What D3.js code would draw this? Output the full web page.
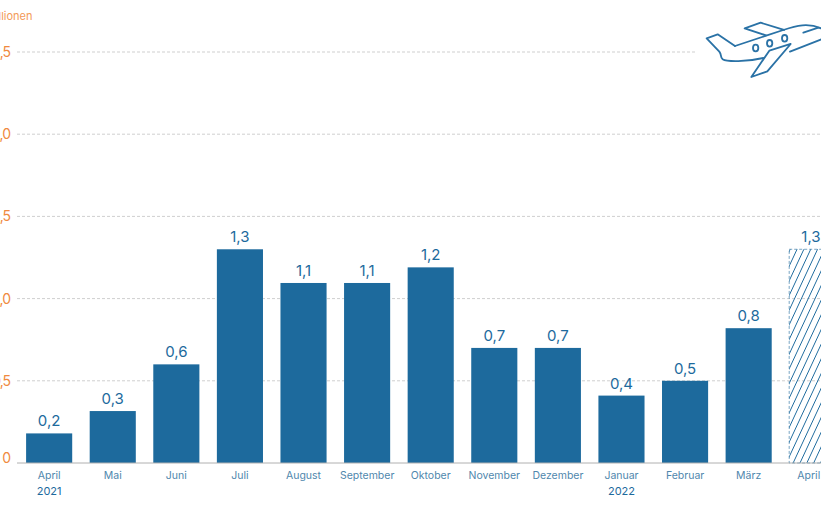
<!DOCTYPE html>
<html>
<head>
<meta charset="utf-8">
<script src="https://cdn.jsdelivr.net/npm/d3@7"></script>
<style>
  body { margin: 0; background: #fff; font-family: Inter, sans-serif; overflow: hidden; }
  svg { display: block; }
  .domain { display: none; }
  .x.axis line, .y.axis line { display: none; }
</style>
</head>
<body>
<script>
// Values (millions)
var months = ["April", "Mai", "Juni", "Juli", "August", "September", "Oktober", "November", "Dezember", "Januar", "Februar", "März", "April "];
var values = [0.18, 0.316, 0.6, 1.3, 1.095, 1.095, 1.19, 0.7, 0.7, 0.41, 0.5, 0.82, 1.3];
var hatched = ["April "];
var yearLabels = [["April", "2021"], ["Januar", "2022"]];
var yTicks = [0, 0.5, 1, 1.5, 2, 2.5];

var blue = "#1d6a9d", orange = "#f08a3e";
var width = 821, height = 513;

var x = d3.scaleBand().domain(months).range([17.2, 844.2]).paddingInner(0.275).paddingOuter(0.14);
var y = d3.scaleLinear().domain([0, 2.5]).range([463, 52]);

var comma = function(v, digits) { return d3.format("." + digits + "f")(v).replace(".", ","); };

var svg = d3.select("body").append("svg").attr("width", width).attr("height", height);

var defs = svg.append("defs");
var pattern = defs.append("pattern")
    .attr("id", "hatch")
    .attr("patternUnits", "userSpaceOnUse")
    .attr("width", 6.2).attr("height", 6.2)
    .attr("patternTransform", "rotate(25)");
pattern.append("line")
    .attr("x1", 3.1).attr("x2", 3.1).attr("y1", 0).attr("y2", 6.2)
    .attr("stroke", blue).attr("stroke-width", 0.9);

// unit label, cut by the left edge like the reference
svg.append("text")
    .attr("x", 32.5).attr("y", 19.5)
    .attr("text-anchor", "end")
    .attr("fill", "#f39a58")
    .attr("font-size", 11)
    .text("in Millionen");

// y axis and dashed grid
var yAxis = svg.append("g")
    .attr("class", "y axis")
    .attr("transform", "translate(10,0)")
    .call(d3.axisLeft(y).tickValues(yTicks).tickSize(0).tickPadding(0)
      .tickFormat(function(d) { return d === 0 ? "0" : comma(d, 1); }));
yAxis.selectAll("text")
    .attr("fill", orange).attr("font-size", 14).attr("font-family", "Inter")
    .attr("letter-spacing", -1)
    .attr("y", function(d) { return d === 0 ? -5 : 0; });

svg.selectAll(".grid").data(yTicks.filter(function(d) { return d > 0; }))
  .enter().append("line")
    .attr("class", "grid")
    .attr("x1", 17)
    .attr("x2", function(d) { return d === 2.5 ? 695 : width; })
    .attr("y1", function(d) { return y(d); })
    .attr("y2", function(d) { return y(d); })
    .attr("stroke", "#cfcfcf")
    .attr("stroke-width", 1)
    .attr("stroke-dasharray", "3 2");

// bars
svg.selectAll(".bar").data(months)
  .enter().append("rect")
    .attr("class", "bar")
    .attr("x", function(d) { return x(d); })
    .attr("width", x.bandwidth())
    .attr("y", function(d, i) { return y(values[i]); })
    .attr("height", function(d, i) { return y(0) - y(values[i]); })
    .attr("fill", function(d) { return hatched.indexOf(d) > -1 ? "url(#hatch)" : blue; })
    .attr("stroke", function(d) { return hatched.indexOf(d) > -1 ? "#3f7fab" : "none"; })
    .attr("stroke-width", 0.7)
    .attr("stroke-dasharray", function(d) { return hatched.indexOf(d) > -1 ? "3 2" : null; });

// value labels
svg.selectAll(".val").data(months)
  .enter().append("text")
    .attr("class", "val")
    .attr("x", function(d) { return Math.min(x(d) + x.bandwidth() / 2, 811); })
    .attr("y", function(d, i) { return y(values[i]) - 7; })
    .attr("text-anchor", "middle")
    .attr("fill", blue)
    .attr("font-size", 15)
    .text(function(d, i) { return comma(values[i], 1); });

// baseline
svg.append("line")
    .attr("x1", 17).attr("x2", width)
    .attr("y1", y(0)).attr("y2", y(0))
    .attr("stroke", "#b0b0b0")
    .attr("stroke-width", 1);

// x axis
var xAxis = svg.append("g")
    .attr("class", "x axis")
    .attr("transform", "translate(0," + y(0) + ")")
    .call(d3.axisBottom(x).tickSize(0).tickPadding(9));
xAxis.selectAll("text")
    .attr("fill", "#4f87ad").attr("font-size", 10.5).attr("font-family", "Inter")
    .attr("x", function(d) { return hatched.indexOf(d) > -1 ? -3.5 : 0; });

svg.selectAll(".year").data(yearLabels)
  .enter().append("text")
    .attr("class", "year")
    .attr("x", function(d) { return x(d[0]) + x.bandwidth() / 2; })
    .attr("y", 495)
    .attr("text-anchor", "middle")
    .attr("fill", blue)
    .attr("font-size", 11)
    .text(function(d) { return d[1]; });

// plane icon
var plane = svg.append("g")
    .attr("transform", "translate(680,0) scale(0.3333)")
    .attr("fill", "none")
    .attr("stroke", "#2a72a6")
    .attr("stroke-width", 5.5)
    .attr("stroke-linejoin", "round")
    .attr("stroke-linecap", "round");
plane.append("path").attr("d", "M165,138 L113,103 L80,115 L118,155 C126,165 120,172 128,178 C140,186 200,186 250,174");
plane.append("path").attr("d", "M165,138 L310,90 C350,76 385,68 423,85");
plane.append("path").attr("d", "M370,98 L415,83");
plane.append("path").attr("d", "M330,155 L425,118");
plane.append("path").attr("d", "M258,106 L194,85 L242,68 L312,90");
plane.append("path").attr("d", "M268,152 L332,132 L262,214 L214,231 Z");
[[227, 144], [269, 130], [314, 115]].forEach(function(w) {
  plane.append("ellipse").attr("cx", w[0]).attr("cy", w[1]).attr("rx", 8).attr("ry", 10);
});
</script>
</body>
</html>
